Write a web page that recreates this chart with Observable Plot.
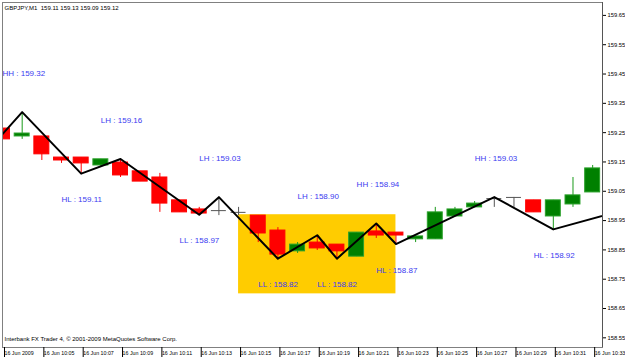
<!DOCTYPE html>
<html><head><meta charset="utf-8">
<script src="https://cdn.jsdelivr.net/npm/d3@7"></script>
<script src="https://cdn.jsdelivr.net/npm/@observablehq/plot@0.6"></script>
<style>body{margin:0;background:#fff;overflow:hidden}</style>
</head><body><div id="chart"></div>
<script>
// ---- data ----
const symbolTitle = "GBPJPY,M1  159.11 159.13 159.09 159.12";
const footer = "Interbank FX Trader 4, © 2001-2009 MetaQuotes Software Corp.";
// minute of the hour (16 Jun 2009, 10:xx)
const minutes = [3,4,5,6,7,8,9,10,11,12,13,14,15,16,17,18,19,20,21,22,23,24,25,26,27,28,29,30,31,32,33];
const open  = [159.264,159.237,159.237,159.165,159.165,159.138,159.148,159.118,159.097,159.019,158.988,158.984,158.978,158.967,158.916,158.845,158.875,158.868,158.827,158.913,158.909,158.886,158.886,158.964,158.995,159.025,159.029,159.019,158.964,159.005,159.046];
const high  = [159.264,159.315,159.237,159.165,159.165,159.159,159.155,159.118,159.111,159.019,158.995,159.029,158.995,158.967,158.926,158.875,158.899,158.868,158.909,158.940,158.909,158.896,158.995,158.995,159.015,159.029,159.029,159.019,159.019,159.097,159.138];
const low   = [159.227,159.227,159.155,159.145,159.111,159.131,159.097,159.083,158.978,158.978,158.967,158.967,158.967,158.875,158.817,158.838,158.848,158.817,158.827,158.889,158.868,158.875,158.886,158.964,158.995,158.995,158.995,158.978,158.920,158.995,159.046];
const close = [159.227,159.247,159.176,159.155,159.145,159.159,159.104,159.083,159.008,158.978,158.974,158.984,158.978,158.906,158.834,158.868,158.855,158.845,158.909,158.899,158.899,158.896,158.978,158.988,159.008,159.025,159.029,158.978,159.019,159.036,159.128];

const zzMinute = [3,4,7,9,13,14,17,19,20,22,23,28,31,34];
const zzPrice  = [159.245,159.32,159.11,159.16,158.97,159.03,158.82,158.90,158.82,158.94,158.87,159.03,158.92,158.975];
const swingKind = [null,"HH","HL","LH","LL","LH","LL","LH","LL","HH","HL","HH","HL",null];

const boxMinutes = [15, 23];
const boxPrices  = [158.70, 158.97];

const xTickMinutes = [3,5,7,9,11,13,15,17,19,21,23,25,27,29,31,33];
const xTickLabels = ["16 Jun 2009","16 Jun 10:05","16 Jun 10:07","16 Jun 10:09","16 Jun 10:11","16 Jun 10:13","16 Jun 10:15","16 Jun 10:17","16 Jun 10:19","16 Jun 10:21","16 Jun 10:23","16 Jun 10:25","16 Jun 10:27","16 Jun 10:29","16 Jun 10:31","16 Jun 10:33"];
const yTicks = [158.55,158.65,158.75,158.85,158.95,159.05,159.15,159.25,159.35,159.45,159.55,159.65];

// ---- tables ----
const candles = minutes.map((m, i) => ({m, o: open[i], h: high[i], l: low[i], c: close[i]}));
const bodyColor = d => d.c > d.o ? "#008000" : d.c < d.o ? "#ff0000" : "#555";
const wickColor = d => d.c > d.o ? "#1a9a1a" : d.c < d.o ? "#ff0000" : "#555";
const bodies = candles.filter(d => Math.abs(d.c - d.o) > 0.002);
const dojis = candles.filter(d => Math.abs(d.c - d.o) <= 0.002);
const zz = zzMinute.map((m, i) => ({m, p: zzPrice[i], k: swingKind[i]}));
const swings = zz.filter(d => d.k);
const highs = swings.filter(d => d.k[1] === "H");
const lows = swings.filter(d => d.k[1] === "L");
const box = [{x1: boxMinutes[0], x2: boxMinutes[1], y1: boxPrices[0], y2: boxPrices[1]}];
const hw = 0.38;
const font = "'Liberation Sans', Arial, sans-serif";
const lbl = d => `${d.k} : ${d.p.toFixed(2)}`;

const chart = Plot.plot({
  width: 625, height: 363,
  marginLeft: 2, marginRight: 23, marginTop: 2, marginBottom: 16,
  style: {fontFamily: font, background: "#fff", overflow: "visible"},
  x: {domain: [3, 33.5]},
  y: {domain: [158.517, 159.694]},
  marks: [
    Plot.rect(box, {x1: "x1", x2: "x2", y1: "y1", y2: "y2", fill: "#ffcc00"}),
    Plot.ruleX(candles, {x: "m", y1: "l", y2: "h", stroke: wickColor, strokeWidth: 1, clip: true}),
    Plot.rect(bodies, {x1: d => d.m - hw, x2: d => d.m + hw, y1: "o", y2: "c", fill: bodyColor,
      stroke: d => d.c > d.o ? "#2aa02a" : "#ff0000", strokeWidth: 1, clip: true}),
    Plot.ruleY(dojis, {y: "o", x1: d => d.m - hw, x2: d => d.m + hw, stroke: "#555", strokeWidth: 1}),
    Plot.line(zz, {x: "m", y: "p", stroke: "#000", strokeWidth: 2, clip: true}),
    Plot.text(highs, {x: d => d.m - 1, y: "p", text: lbl, dy: -39, textAnchor: "start", fill: "#3b3bf0", fontSize: 8}),
    Plot.text(lows, {x: d => d.m - 1, y: "p", text: lbl, dy: 26, textAnchor: "start", fill: "#3b3bf0", fontSize: 8}),
    Plot.frame({stroke: "#808080"}),
    Plot.text([symbolTitle], {frameAnchor: "top-left", dx: 2, dy: 3, fontSize: 6, fill: "#000", lineAnchor: "top"}),
    Plot.text([footer], {frameAnchor: "bottom-left", dx: 2, dy: -7, fontSize: 6, fill: "#000"}),
    Plot.axisY({anchor: "right", ticks: yTicks, tickFormat: d => d.toFixed(2), tickSize: 3, tickPadding: 2, fontSize: 5.8, label: null, stroke: "#000"}),
    Plot.ruleX([33.5], {stroke: "#555"}),
    Plot.axisX({ticks: xTickMinutes, tickFormat: (d, i) => xTickLabels[i], tickSize: 10, tickPadding: -6, textAnchor: "start", dx: 2, fontSize: 5.3, label: null})
  ]
});
document.getElementById("chart").append(chart);
</script>
</body></html>
